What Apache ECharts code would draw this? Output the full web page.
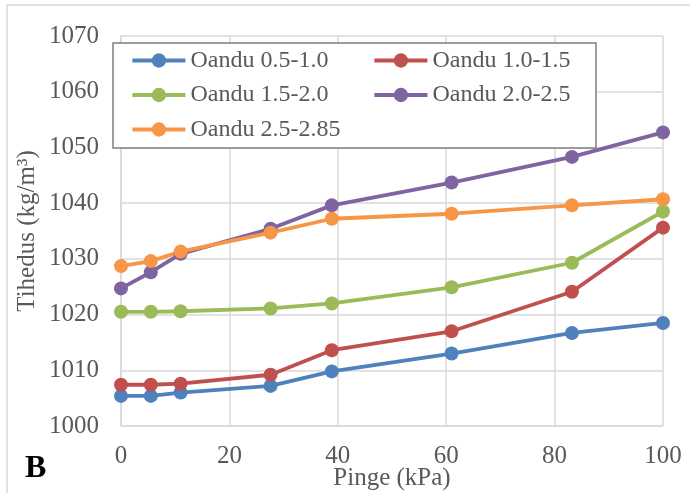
<!DOCTYPE html>
<html>
<head>
<meta charset="utf-8">
<script src="https://cdn.jsdelivr.net/npm/echarts@6/dist/echarts.min.js"></script>
<style>
  html, body { margin: 0; padding: 0; background: #fff; }
  #chart { width: 690px; height: 493px; }
</style>
</head>
<body>
<div id="chart"></div>
<script>
// Pressure (kPa) at which density was measured
const pressure = [0, 5.5, 11, 27.6, 38.9, 61, 83.2, 100];

// Density (kg/m³) for each depth interval
const oandu_05_10 = [1005.4, 1005.4, 1006.0, 1007.2, 1009.8, 1013.0, 1016.7, 1018.5];
const oandu_10_15 = [1007.4, 1007.4, 1007.6, 1009.2, 1013.6, 1017.0, 1024.1, 1035.6];
const oandu_15_20 = [1020.5, 1020.5, 1020.6, 1021.1, 1022.0, 1024.9, 1029.3, 1038.5];
const oandu_20_25 = [1024.7, 1027.6, 1030.9, 1035.4, 1039.6, 1043.7, 1048.3, 1052.7];
const oandu_25_285 = [1028.7, 1029.6, 1031.3, 1034.7, 1037.2, 1038.1, 1039.6, 1040.7];

const seriesNames = ['Oandu 0.5-1.0', 'Oandu 1.0-1.5', 'Oandu 1.5-2.0', 'Oandu 2.0-2.5', 'Oandu 2.5-2.85'];
const seriesValues = [oandu_05_10, oandu_10_15, oandu_15_20, oandu_20_25, oandu_25_285];
const seriesColors = ['#4F81BD', '#C0504D', '#9BBB59', '#8064A2', '#F79646'];

const FONT = '"Liberation Serif", "Times New Roman", serif';
const TEXT = '#595959';
const GRID = '#d9d9d9';
const LINE_W = 3.8;

const chart = echarts.init(document.getElementById('chart'), null, { renderer: 'canvas' });

const series = seriesNames.map((name, i) => ({
  name: name,
  type: 'line',
  data: pressure.map((p, j) => [p, seriesValues[i][j]]),
  symbol: 'circle',
  symbolSize: 14,
  showSymbol: true,
  color: seriesColors[i],
  lineStyle: { width: LINE_W, color: seriesColors[i] },
  itemStyle: { color: seriesColors[i] },
  emphasis: { disabled: true },
  z: 2
}));

const legendCommon = {
  orient: 'vertical',
  itemWidth: 53,
  itemHeight: 18,
  itemGap: 10.5,
  padding: 0,
  z: 10,
  lineStyle: { width: LINE_W },
  textStyle: { fontFamily: FONT, fontSize: 24, color: TEXT, lineHeight: 24 },
  top: 48.5
};

chart.setOption({
  animation: false,
  backgroundColor: '#fff',
  grid: { left: 121, right: 27, top: 36, bottom: 67, containLabel: false, outerBoundsMode: 'none' },
  xAxis: {
    type: 'value',
    min: 0, max: 100, interval: 20,
    name: 'Pinge (kPa)',
    nameLocation: 'middle',
    nameGap: 40,
    nameMoveOverlap: false,
    nameTextStyle: { fontFamily: FONT, fontSize: 25, color: TEXT },
    axisLine: { show: true, lineStyle: { color: GRID, width: 1.5 } },
    axisTick: { show: false },
    axisLabel: { fontFamily: FONT, fontSize: 25, color: TEXT, margin: 18 },
    splitLine: { show: true, lineStyle: { color: GRID, width: 1.5 } }
  },
  yAxis: {
    type: 'value',
    min: 1000, max: 1070, interval: 10,
    name: 'Tihedus (kg/m³)',
    nameLocation: 'middle',
    nameGap: 81,
    nameMoveOverlap: false,
    nameTextStyle: { fontFamily: FONT, fontSize: 25, color: TEXT },
    axisLine: { show: true, lineStyle: { color: GRID, width: 1.5 } },
    axisTick: { show: false },
    axisLabel: { fontFamily: FONT, fontSize: 25, color: TEXT, margin: 22,
      formatter: (v) => String(v) },
    splitLine: { show: true, lineStyle: { color: GRID, width: 1.5 } }
  },
  legend: [
    Object.assign({}, legendCommon, { left: 130.5, data: [seriesNames[0], seriesNames[2], seriesNames[4]] }),
    Object.assign({}, legendCommon, { left: 372.5, data: [seriesNames[1], seriesNames[3]] })
  ],
  graphic: [
    // outer chart frame
    { type: 'rect', silent: true, z: -10,
      shape: { x: 7, y: 5, width: 700, height: 500 },
      style: { fill: 'none', stroke: GRID, lineWidth: 1.5 } },
    // legend box
    { type: 'rect', silent: true, z: 5,
      shape: { x: 113, y: 43, width: 483, height: 105 },
      style: { fill: '#fff', stroke: '#7f7f7f', lineWidth: 1.5 } },
    // panel letter
    { type: 'text', silent: true, left: 25, top: 453,
      style: { text: 'B', fontFamily: FONT, fontSize: 32, fontWeight: 'bold', fill: '#000' } }
  ],
  series: series
});
</script>
</body>
</html>
